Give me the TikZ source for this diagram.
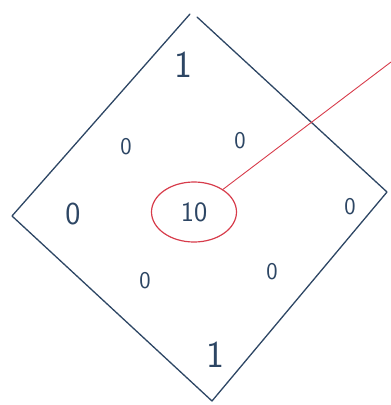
\documentclass[tikz,border=0pt]{standalone}
\usetikzlibrary{shapes.geometric}
\definecolor{ink}{RGB}{45,70,100}
\definecolor{redink}{RGB}{215,60,75}
\begin{document}
\begin{tikzpicture}[x=1pt,y=-1pt,
  edge/.style={draw=ink,line width=1.3pt,line cap=round,line join=round},
  digit/.style={text=ink,font=\sffamily\fontsize{38}{38}\selectfont,inner sep=0pt},
  small/.style={digit,font=\sffamily\fontsize{24}{24}\selectfont}]
\useasboundingbox (0,0) rectangle (391,405);
\coordinate (t1) at (190,14);
\coordinate (t2) at (197,17);
\coordinate (r) at (387,192);
\coordinate (b) at (212,401);
\coordinate (l) at (12,216);
\draw[edge] (t1) -- (l) -- (b) -- (r) -- (t2);
\node[digit] (n1) at (183,65) {1};
\node[small] (a) at (126,147) {0};
\node[small] (bb) at (240,141) {0};
\node[digit,font=\sffamily\fontsize{32}{32}\selectfont] (c0) at (73,214) {0};
\node[small] (d) at (350,207) {0};
\node[small] (e) at (145,281) {0};
\node[small] (f) at (272,272) {0};
\node[digit] (n2) at (215,355) {1};
\node[draw=redink,line width=1.2pt,ellipse,minimum width=85pt,minimum height=60pt,inner sep=0pt] (c) at (194,212) {};
\node[small,font=\sffamily\fontsize{28}{28}\selectfont] (ten) at (c) {10};
\coordinate (out) at (391,62);
\draw[redink,line width=0.9pt] (c.38) -- (out);
\end{tikzpicture}
\end{document}
